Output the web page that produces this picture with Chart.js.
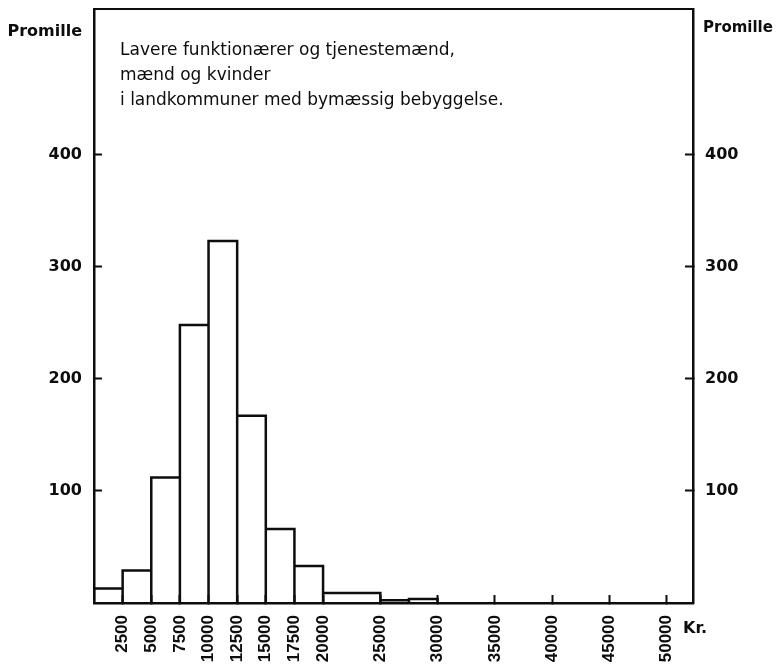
<!DOCTYPE html>
<html>
<head>
<meta charset="utf-8">
<title>Lavere funktionærer og tjenestemænd</title>
<script src="https://cdn.jsdelivr.net/npm/chart.js@4.4.1/dist/chart.umd.min.js"></script>
<style>
  html, body { margin: 0; padding: 0; background: #fff; }
  #wrap { width: 777px; height: 667px; }
</style>
</head>
<body>
<div id="wrap"><canvas id="myChart" width="777" height="667"></canvas></div>
<script>
// Bin edges (kr.) and heights (promille) of the histogram
const binEdges = [0, 2500, 5000, 7500, 10000, 12500, 15000, 17500, 20000, 25000, 27500, 30000];
const binValues = [13, 29, 112, 248, 323, 167, 66, 33, 9, 2.5, 3.5];

// Tick labels
const xTicks = [2500, 5000, 7500, 10000, 12500, 15000, 17500, 20000, 25000, 30000, 35000, 40000, 45000, 50000];
const yTicks = [100, 200, 300, 400];

const titleLines = [
  "Lavere funktionærer og tjenestemænd,",
  "mænd og kvinder",
  "i landkommuner med bymæssig bebyggelse."
];

const INK = "#0d0d0d";
const tickFont = { family: "DejaVu Sans", size: 16, weight: "bold" };
const xTickFont = { family: "Liberation Sans", size: 17, weight: "bold" };

/**
 * Outline path of the histogram: up, across, down for every bin
 */
function buildOutline(edges, values) {
  const pts = [{ x: edges[0], y: 0 }];
  values.forEach((v, i) => {
    pts.push({ x: edges[i], y: v });
    pts.push({ x: edges[i + 1], y: v });
    pts.push({ x: edges[i + 1], y: 0 });
  });
  return pts;
}

function fixedTicks(values) {
  return (scale) => {
    scale.ticks = values.map((v) => ({ value: v }));
  };
}

// fixed axis sizes, no extra padding for labels at the ends
function fitX(h) {
  return (s) => { s.height = h; s.paddingLeft = 0; s.paddingRight = 0; };
}
function fitY(w) {
  return (s) => { s.width = w; s.paddingTop = 0; s.paddingBottom = 0; };
}

// Free text: axis names, the caption and the currency unit
const textPlugin = {
  id: "texts",
  afterDraw(chart) {
    const { ctx, chartArea: a } = chart;
    ctx.save();
    ctx.fillStyle = INK;
    ctx.textBaseline = "alphabetic";

    ctx.font = "bold 16px 'DejaVu Sans'";
    ctx.textAlign = "right";
    ctx.fillText("Promille", a.left - 12, 36);
    ctx.textAlign = "left";
    ctx.fillText("Kr.", a.right - 10, a.bottom + 30);
    ctx.font = "bold 15px 'DejaVu Sans'";
    ctx.fillText("Promille", a.right + 10, 32);

    ctx.font = "17px 'DejaVu Sans'";
    titleLines.forEach((line, i) => {
      ctx.fillText(line, a.left + 26, 55 + i * 25);
    });
    ctx.restore();
  }
};

function renderChart() {
  const ctx = document.getElementById("myChart").getContext("2d");

  const axisGrid = {
    display: true,
    drawOnChartArea: false,
    drawTicks: true,
    tickLength: -8,
    tickColor: INK,
    tickWidth: 2,
    color: INK
  };
  const axisBorder = { display: true, color: INK, width: 2.5 };

  new Chart(ctx, {
    type: "scatter",
    data: {
      datasets: [
        {
          data: buildOutline(binEdges, binValues),
          showLine: true,
          borderColor: INK,
          borderWidth: 2.5,
          pointRadius: 0,
          fill: false,
          tension: 0,
          xAxisID: "x",
          yAxisID: "y"
        }
      ]
    },
    options: {
      responsive: false,
      animation: false,
      layout: { padding: 0 },
      plugins: { legend: { display: false }, tooltip: { enabled: false } },
      scales: {
        x: {
          type: "linear",
          position: "bottom",
          min: 0,
          max: 52300,
          afterBuildTicks: fixedTicks(xTicks),
          afterFit: fitX(64),
          ticks: {
            autoSkip: false,
            minRotation: 90,
            maxRotation: 90,
            padding: 20,
            color: INK,
            font: xTickFont,
            callback: (v) => String(v)
          },
          grid: axisGrid,
          border: axisBorder
        },
        xTop: {
          type: "linear",
          position: "top",
          min: 0,
          max: 52300,
          afterFit: fitX(9),
          ticks: { display: false },
          grid: { display: true, drawOnChartArea: false, drawTicks: false },
          border: { display: true, color: INK, width: 2 }
        },
        y: {
          type: "linear",
          position: "left",
          min: 0,
          max: 530,
          afterBuildTicks: fixedTicks(yTicks),
          afterFit: fitY(94),
          ticks: { padding: 20, color: INK, font: tickFont },
          grid: axisGrid,
          border: axisBorder
        },
        yRight: {
          type: "linear",
          position: "right",
          min: 0,
          max: 530,
          afterBuildTicks: fixedTicks(yTicks),
          afterFit: fitY(84),
          ticks: { padding: 20, color: INK, font: tickFont },
          grid: axisGrid,
          border: axisBorder
        }
      }
    },
    plugins: [textPlugin]
  });
}

document.addEventListener("DOMContentLoaded", renderChart);
</script>
</body>
</html>
